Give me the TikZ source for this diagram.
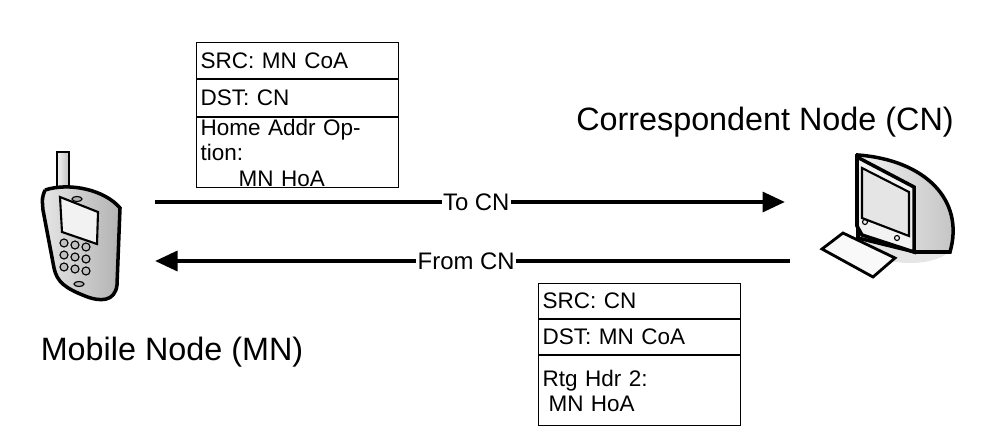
\documentclass[tikz,border=0pt]{standalone}
\usepackage{fontspec}
\setmainfont{Liberation Sans}
\usetikzlibrary{arrows.meta}
\tikzset{
  hdr/.style={draw, thick, minimum width=202*0.025cm, anchor=north west, inner sep=2pt, align=left, text width=194*0.025cm, font=\fontsize{16}{18}\selectfont},
  msg/.style={line width=3pt, -{Triangle[length=16pt,width=14pt]}},
  msglbl/.style={fill=white, inner sep=1pt, font=\fontsize{17}{19}\selectfont},
  big/.style={font=\fontsize{23}{25}\selectfont}
}
\begin{document}
\begin{tikzpicture}[x=0.025cm, y=-0.025cm]
        \useasboundingbox (0,0) rectangle (1008,441);
        %mobile phone
        \draw [line width=2pt, left color=gray!10, right color=gray!50] (57,152) rectangle (69,190);
        \draw [line width=2.5pt, left color=gray!20, right color=gray!60]
          (45,190) .. controls (70,182) and (105,190) .. (120,208)
          -- (117,285) .. controls (115,302) and (100,302) .. (85,296)
          .. controls (65,288) and (57,282) .. (54,268) -- (43,210)
          .. controls (42,198) .. (45,190);
        \draw [line width=1.5pt, fill=gray!10] (60,197) -- (98,212) -- (97,244) -- (62,232) -- cycle;
        \foreach \i in {0,1,2}
          \foreach \j in {0,1,2}
            \draw [thick, fill=gray!50] (64+\i*11, 243+\j*12+\i*2) circle (4);
        \draw [thick, fill=gray!60] (79,284) ellipse (5 and 2.5);
        \draw [thick, fill=gray!60] (77,199) ellipse (5 and 2.5);
        \node [big] (mn) at (172,352) {Mobile Node (MN)};
        %computer
        \fill [gray!20] (910,245) ellipse (42 and 18);
        \draw [line width=2.5pt, left color=gray!10, right color=gray!50]
          (858,155) .. controls (925,160) and (965,200) .. (950,252)
          -- (915,252) -- (858,238) -- cycle;
        \draw [line width=2.5pt, fill=gray!10] (857,157) -- (914,187) -- (914,252) -- (862,235) -- (857,226) -- cycle;
        \draw [line width=1.5pt, fill=gray!20] (862,168) -- (909,192) -- (909,236) -- (862,218) -- cycle;
        \draw [thick] (865,222) circle (2.5) (897,238) circle (2.5);
        \draw [line width=2pt, fill=gray!5] (822,249) -- (843,233) -- (895,258) -- (873,277) -- cycle;
        \node [big] (cn) at (765,122) {Correspondent Node (CN)};
        %headers to CN
        \node [hdr, minimum height=36*0.025cm] (s1) at (196,42) {SRC: MN CoA};
        \node [hdr, minimum height=37*0.025cm] (d1) at (s1.south west) {DST: CN};
        \node [hdr, minimum height=70*0.025cm, inner sep=1pt] (o1) at (d1.south west) {Home Addr Option:\\\hspace*{3.2ex}MN HoA};
        %headers from CN
        \node [hdr, minimum height=35*0.025cm] (s2) at (538,283) {SRC: CN};
        \node [hdr, minimum height=35*0.025cm] (d2) at (s2.south west) {DST: MN CoA};
        \node [hdr, minimum height=70*0.025cm] (o2) at (d2.south west) {Rtg Hdr 2:\\\hspace*{0.5ex}MN HoA};
        %messages
        \coordinate (a1) at (155,202);
        \coordinate (b1) at (785,202);
        \coordinate (a2) at (790,261);
        \coordinate (b2) at (155,261);
        \draw [msg] (a1) -- node [msglbl, pos=0.51] (t1) {To CN} (b1);
        \draw [msg] (a2) -- node [msglbl, pos=0.51] (t2) {From CN} (b2);
    \end{tikzpicture}
\end{document}
